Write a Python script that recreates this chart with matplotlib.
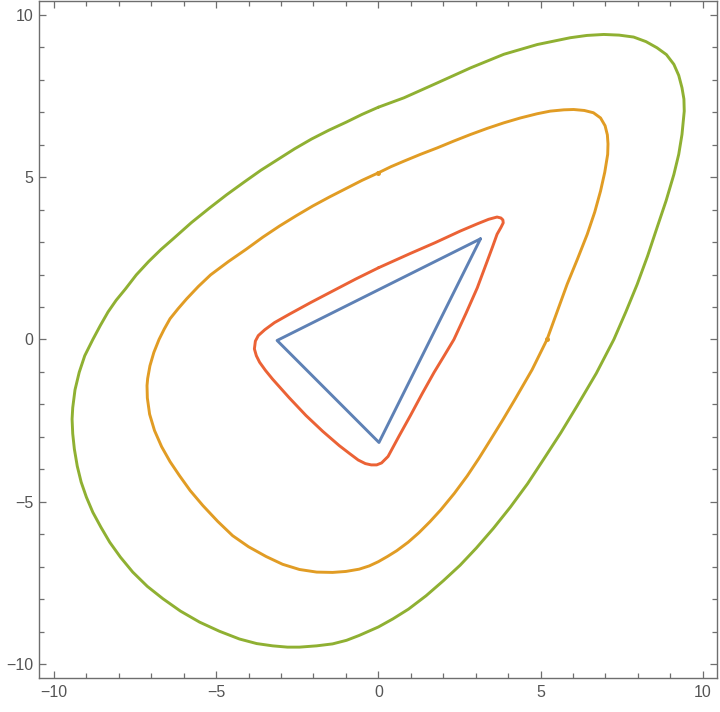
import matplotlib
matplotlib.use("Agg")
import matplotlib.pyplot as plt
from matplotlib.ticker import MultipleLocator

plt.rcParams['font.family'] = ['Liberation Sans', 'DejaVu Sans']

# Curve 1 (blue, innermost triangle)
blue_x = [3.15, -3.12, 0.02, 3.15]
blue_y = [3.10, -0.03, -3.17, 3.10]

# Curve 2 (orange)
orange_x = [0.00, -0.50, -0.99, -1.50, -2.02, -2.53, -3.05, -3.56, -4.07, -4.62, -5.17, -5.55,
            -5.91, -6.17, -6.42, -6.60, -6.76, -6.92, -7.04, -7.11, -7.13, -7.12, -7.05, -6.90,
            -6.68, -6.42, -6.13, -5.80, -5.41, -4.95, -4.49, -4.00, -3.46, -2.95, -2.43, -1.90,
            -1.41, -1.00, -0.59, -0.28, 0.00, 0.28, 0.57, 0.92, 1.25, 1.59, 1.92, 2.34,
            2.74, 3.10, 3.45, 3.84, 4.22, 4.74, 5.20, 5.51, 5.82, 6.14, 6.44, 6.67,
            6.85, 6.98, 7.07, 7.08, 7.06, 6.99, 6.85, 6.63, 6.35, 6.02, 5.72, 5.30,
            4.90, 4.38, 3.87, 3.36, 2.84, 2.33, 1.82, 1.30, 0.79, 0.39, 0.00]
orange_y = [5.13, 4.90, 4.65, 4.39, 4.11, 3.81, 3.49, 3.15, 2.78, 2.40, 1.99, 1.63,
            1.25, 0.95, 0.64, 0.32, 0.00, -0.40, -0.81, -1.20, -1.42, -1.80, -2.30, -2.80,
            -3.30, -3.76, -4.19, -4.65, -5.11, -5.60, -6.04, -6.38, -6.68, -6.92, -7.08, -7.16,
            -7.17, -7.14, -7.07, -6.97, -6.84, -6.68, -6.50, -6.24, -5.95, -5.61, -5.25, -4.74,
            -4.20, -3.66, -3.10, -2.47, -1.83, -0.93, 0.00, 0.85, 1.70, 2.48, 3.24, 3.92,
            4.57, 5.15, 5.70, 6.02, 6.30, 6.58, 6.82, 6.98, 7.05, 7.08, 7.07, 7.03,
            6.95, 6.82, 6.67, 6.50, 6.31, 6.11, 5.90, 5.70, 5.49, 5.32, 5.13]

# small dots seen on the orange curve where it crosses the axes
orange_dot_x = [0.00, 5.20]
orange_dot_y = [5.13, 0.00]

# Curve 3 (green, outermost)
green_x = [0.00, -0.50, -0.99, -1.53, -2.06, -2.58, -3.10, -3.62, -4.13, -4.67, -5.20, -5.76,
           -6.30, -6.70, -7.08, -7.46, -7.80, -8.08, -8.33, -8.57, -8.80, -9.05, -9.22, -9.35,
           -9.42, -9.44, -9.42, -9.37, -9.28, -9.16, -9.00, -8.80, -8.55, -8.28, -7.95, -7.57,
           -7.12, -6.64, -6.10, -5.51, -4.90, -4.28, -3.75, -3.26, -2.80, -2.43, -1.90, -1.41,
           -0.98, -0.59, 0.00, 0.45, 0.93, 1.47, 2.00, 2.52, 3.02, 3.55, 4.07, 4.60,
           5.10, 5.62, 6.13, 6.72, 7.26, 7.63, 7.98, 8.30, 8.59, 8.87, 9.11, 9.26,
           9.36, 9.43, 9.42, 9.36, 9.26, 9.11, 8.88, 8.59, 8.25, 7.87, 7.42, 6.95,
           6.43, 5.92, 4.90, 3.87, 2.84, 1.82, 0.79, 0.00]
green_y = [7.15, 6.93, 6.69, 6.44, 6.17, 5.87, 5.54, 5.21, 4.85, 4.46, 4.05, 3.60,
           3.12, 2.77, 2.40, 1.99, 1.55, 1.21, 0.85, 0.43, 0.00, -0.50, -1.01, -1.55,
           -2.10, -2.45, -2.90, -3.37, -3.90, -4.39, -4.85, -5.32, -5.78, -6.24, -6.70, -7.16,
           -7.60, -7.98, -8.36, -8.70, -8.98, -9.22, -9.36, -9.43, -9.47, -9.47, -9.43, -9.37,
           -9.26, -9.11, -8.85, -8.60, -8.30, -7.89, -7.43, -6.95, -6.42, -5.81, -5.16, -4.44,
           -3.68, -2.88, -2.04, -1.04, 0.00, 0.85, 1.70, 2.57, 3.44, 4.27, 5.08, 5.70,
           6.31, 7.03, 7.40, 7.75, 8.13, 8.47, 8.77, 8.98, 9.17, 9.31, 9.37, 9.39,
           9.36, 9.29, 9.08, 8.78, 8.36, 7.90, 7.44, 7.15]

# Curve 4 (red, rounded triangle)
red_x = [0.01, -0.70, -1.41, -2.08, -2.74, -3.20, -3.50, -3.70, -3.79, -3.82, -3.76, -3.66,
         -3.48, -3.26, -2.75, -2.23, -1.71, -1.20, -0.90, -0.62, -0.40, -0.22, -0.05, 0.10,
         0.30, 0.64, 0.99, 1.35, 1.72, 2.03, 2.33, 2.70, 3.05, 3.36, 3.52, 3.66,
         3.78, 3.85, 3.84, 3.78, 3.66, 3.40, 3.05, 2.53, 1.75, 0.99, 0.01]
red_y = [2.21, 1.86, 1.49, 1.14, 0.78, 0.52, 0.30, 0.12, -0.05, -0.29, -0.50, -0.70,
         -0.95, -1.22, -1.79, -2.34, -2.83, -3.27, -3.50, -3.71, -3.82, -3.86, -3.86, -3.80,
         -3.60, -2.97, -2.34, -1.67, -1.01, -0.50, 0.00, 0.80, 1.59, 2.42, 2.85, 3.24,
         3.45, 3.59, 3.68, 3.74, 3.77, 3.70, 3.56, 3.34, 2.98, 2.65, 2.21]

curves = [
    (blue_x, blue_y, '#5E81B5'),
    (orange_x, orange_y, '#E19C24'),
    (green_x, green_y, '#8FB032'),
    (red_x, red_y, '#EB6235'),
]

fig = plt.figure(figsize=(7.2, 7.12), dpi=100)
ax = fig.add_axes([0.0546, 0.0473, 0.9417, 0.9513])

for xs, ys, c in curves:
    ax.plot(xs, ys, color=c, lw=2.1, solid_joinstyle='round', solid_capstyle='round')

ax.plot(orange_dot_x, orange_dot_y, linestyle='none', marker='o', ms=3.6,
        color='#E19C24', markeredgewidth=0)

ax.set_xlim(-10.45, 10.45)
ax.set_ylim(-10.43, 10.42)

ax.xaxis.set_major_locator(MultipleLocator(5))
ax.yaxis.set_major_locator(MultipleLocator(5))
ax.xaxis.set_minor_locator(MultipleLocator(1))
ax.yaxis.set_minor_locator(MultipleLocator(1))

spine_col = '#6e6e6e'
for s in ax.spines.values():
    s.set_color(spine_col)
    s.set_linewidth(1.0)

ax.tick_params(which='both', direction='in', top=True, right=True, color=spine_col, width=0.9)
ax.tick_params(which='major', length=5.0, labelsize=11.5, labelcolor='#555555', pad=4.5)
ax.tick_params(which='minor', length=3.3)

fig.savefig('out.png', dpi=100)
